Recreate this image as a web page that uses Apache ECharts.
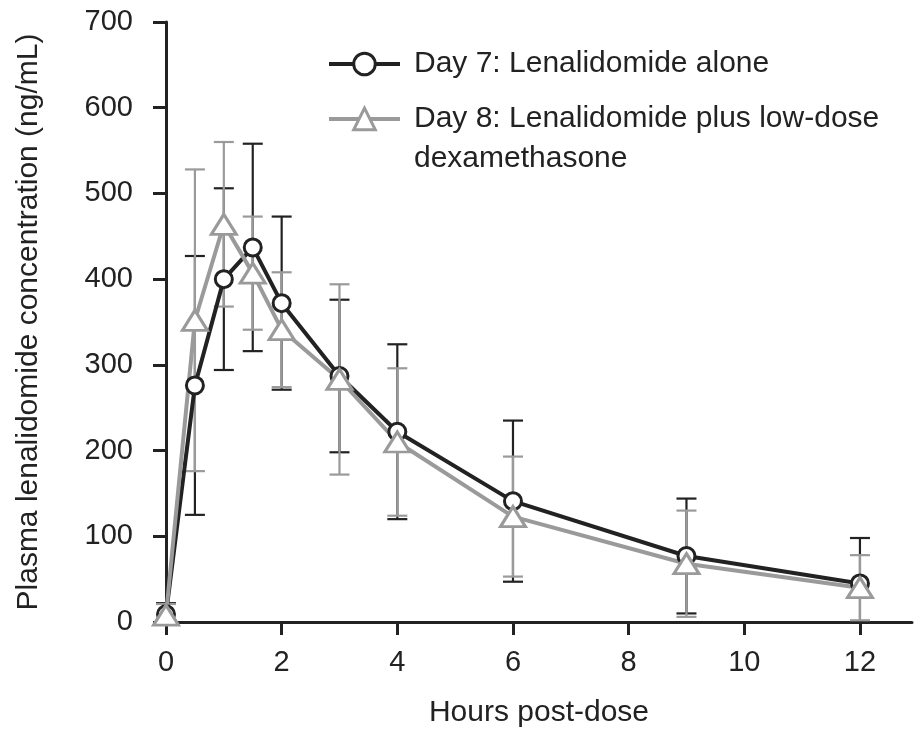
<!DOCTYPE html>
<html>
<head>
<meta charset="utf-8">
<script src="https://cdn.jsdelivr.net/npm/echarts@6/dist/echarts.min.js"></script>
<style>
html,body{margin:0;padding:0;background:#fff;}
#chart{width:914px;height:731px;}
</style>
</head>
<body>
<div id="chart"></div>
<script>
// Data
var hours = [0, 0.5, 1, 1.5, 2, 3, 4, 6, 9, 12];
var day7Mean = [9, 276, 400, 437, 372, 287, 222, 141, 77, 45];
var day7SD   = [13, 151, 106, 121, 101, 89, 102, 94, 67, 53];
var day8Mean = [8, 352, 464, 407, 341, 283, 210, 123, 68, 40];
var day8SD   = [13, 176, 96, 66, 67, 111, 86, 70, 62, 38];
var xTicks = [0, 2, 4, 6, 8, 10, 12];
var yTicks = [0, 100, 200, 300, 400, 500, 600, 700];
var day7Name = 'Day 7: Lenalidomide alone';
var day8Name = 'Day 8: Lenalidomide plus low-dose dexamethasone';
var day8Lines = ['Day 8: Lenalidomide plus low-dose', 'dexamethasone'];

var BLACK = '#222222';
var GRAY = '#9a9a9a';
var FONT = "'Liberation Sans', Arial, Helvetica, sans-serif";

function zip(xs, ys) { return xs.map(function (x, i) { return [x, ys[i]]; }); }
function zip3(xs, ys, es) { return xs.map(function (x, i) { return [x, ys[i], es[i]]; }); }

function errRender(color) {
  return function (params, api) {
    var x = api.value(0), m = api.value(1), e = api.value(2);
    var lo = Math.max(0, m - e), hi = m + e;
    var pHi = api.coord([x, hi]);
    var pLo = api.coord([x, lo]);
    var cap = 10;
    var style = { stroke: color, lineWidth: 2.2 };
    var children = [
      { type: 'line', shape: { x1: pHi[0], y1: pHi[1], x2: pLo[0], y2: pLo[1] }, style: style },
      { type: 'line', shape: { x1: pHi[0] - cap, y1: pHi[1], x2: pHi[0] + cap, y2: pHi[1] }, style: style }
    ];
    if (m - e > 0) {
      children.push({ type: 'line', shape: { x1: pLo[0] - cap, y1: pLo[1], x2: pLo[0] + cap, y2: pLo[1] }, style: style });
    }
    return { type: 'group', children: children };
  };
}

var legendCommon = {
  orient: 'vertical',
  left: 322,
  itemWidth: 71,
  itemHeight: 27,
  itemGap: 10,
  lineStyle: { width: 4 },
  itemStyle: { borderWidth: 3 },
  textStyle: { fontSize: 30, color: BLACK, fontFamily: FONT, lineHeight: 40, padding: [0, 0, 0, 9] },
  selectedMode: false
};

var chart = echarts.init(document.getElementById('chart'), null, { renderer: 'canvas' });
var option = {
  backgroundColor: '#fff',
  animation: false,
  textStyle: { fontFamily: FONT },
  grid: { left: 166, right: 2, top: 22, bottom: 109, containLabel: false, outerBoundsMode: 'none' },
  legend: [
    Object.assign({}, legendCommon, { data: [day7Name], top: 39 }),
    Object.assign({}, legendCommon, {
      data: [day8Name],
      top: 54,
      formatter: function () { return '\n' + day8Lines.join('\n'); }
    })
  ],
  xAxis: {
    type: 'value',
    min: 0,
    max: 12.9,
    name: 'Hours post-dose',
    nameLocation: 'middle',
    nameGap: 76,
    nameTextStyle: { fontSize: 30, color: BLACK, fontFamily: FONT },
    splitLine: { show: false },
    axisLine: { show: true, onZero: false, lineStyle: { color: BLACK, width: 3 } },
    axisTick: { show: true, inside: false, length: 13, lineStyle: { color: BLACK, width: 3 }, customValues: xTicks },
    axisLabel: { fontSize: 29, color: BLACK, margin: 26, fontFamily: FONT, customValues: xTicks }
  },
  yAxis: {
    type: 'value',
    min: 0,
    max: 700,
    interval: 100,
    name: 'Plasma lenalidomide concentration (ng/mL)',
    nameLocation: 'middle',
    nameGap: 122,
    nameTextStyle: { fontSize: 30, color: BLACK, fontFamily: FONT },
    splitLine: { show: false },
    axisLine: { show: true, onZero: false, lineStyle: { color: BLACK, width: 3 } },
    axisTick: { show: true, inside: false, length: 13, lineStyle: { color: BLACK, width: 3 } },
    axisLabel: { fontSize: 29, color: BLACK, margin: 33, fontFamily: FONT,
      formatter: function (v) { return yTicks.indexOf(v) >= 0 ? String(v) : ''; } }
  },
  series: [
    {
      type: 'custom',
      name: 'err7',
      renderItem: errRender(BLACK),
      data: zip3(hours, day7Mean, day7SD),
      encode: { x: 0, y: 1 },
      clip: false,
      silent: true
    },
    {
      type: 'custom',
      name: 'err8',
      renderItem: errRender(GRAY),
      data: zip3(hours, day8Mean, day8SD),
      encode: { x: 0, y: 1 },
      clip: false,
      silent: true
    },
    {
      type: 'line',
      name: day7Name,
      data: zip(hours, day7Mean),
      symbol: 'circle',
      symbolSize: 17,
      showAllSymbol: true,
      lineStyle: { color: BLACK, width: 4 },
      itemStyle: { color: '#ffffff', borderColor: BLACK, borderWidth: 3 },
      clip: false
    },
    {
      type: 'line',
      name: day8Name,
      data: zip(hours, day8Mean),
      symbol: 'triangle',
      symbolSize: [25, 20],
      showAllSymbol: true,
      lineStyle: { color: GRAY, width: 4 },
      itemStyle: { color: '#ffffff', borderColor: GRAY, borderWidth: 3 },
      clip: false
    }
  ]
};
chart.setOption(option);
</script>
</body>
</html>
